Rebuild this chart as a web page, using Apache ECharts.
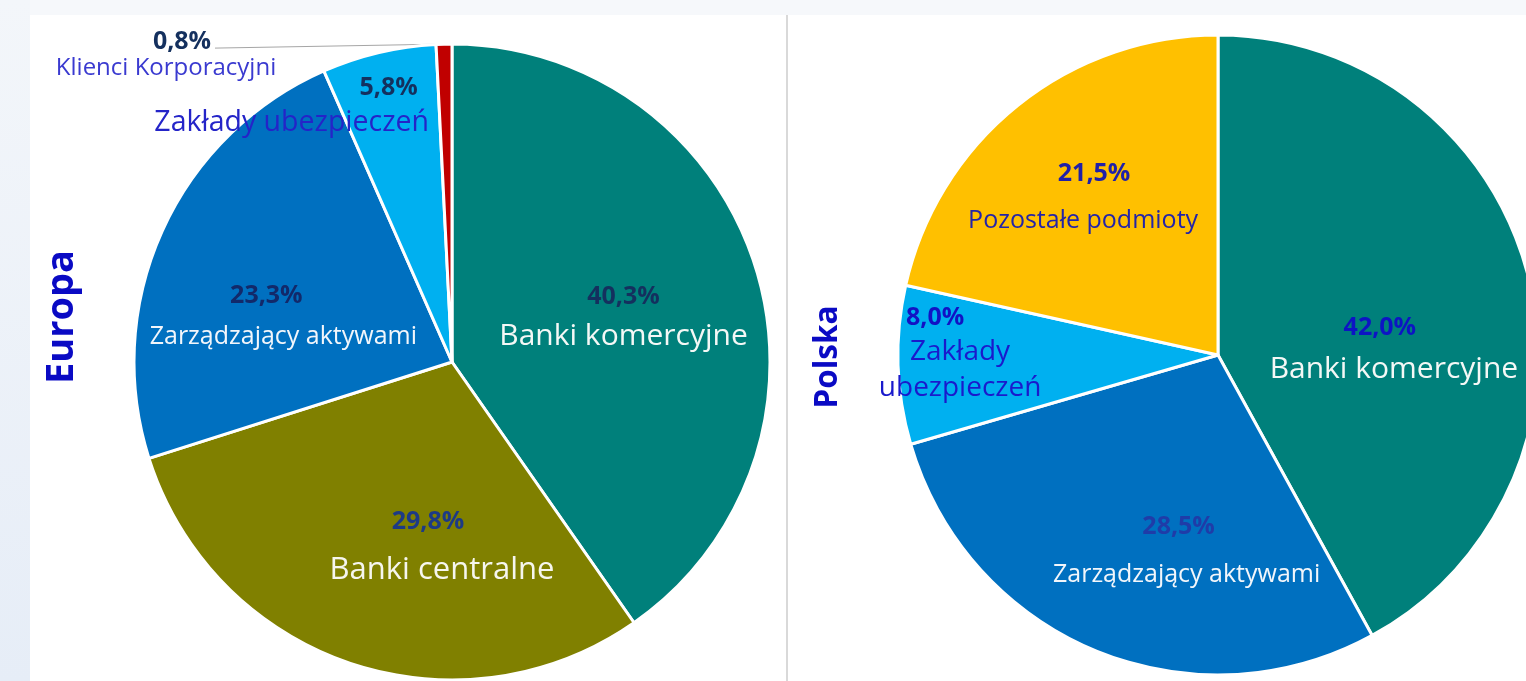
<!DOCTYPE html>
<html><head><meta charset="utf-8">
<script src="https://cdn.jsdelivr.net/npm/echarts@6/dist/echarts.min.js"></script>
<style>html,body{margin:0;padding:0;background:#f6f8fb;overflow:hidden}#c{width:1526px;height:681px}</style>
</head><body><div id="c"></div>
<script>
// ---- data ----
const europeCategories = ['Banki komercyjne', 'Banki centralne', 'Zarządzający aktywami', 'Zakłady ubezpieczeń', 'Klienci Korporacyjni'];
const europeValues = [40.3, 29.8, 23.3, 5.8, 0.8];
const polandCategories = ['Banki komercyjne', 'Zarządzający aktywami', 'Zakłady ubezpieczeń', 'Pozostałe podmioty'];
const polandValues = [42.0, 28.5, 8.0, 21.5];
const panelTitles = ['Europa', 'Polska'];

// ---- styles ----
const FONT = '"Open Sans", "Noto Sans", sans-serif';
function pct(v) { return v.toFixed(1).replace('.', ',') + '%'; }

const europeStyle = [
  { color: '#00807b', pc: '#14305e', nc: '#f4f8f6', ns: 30, plh: 36, nlh: 44, pad: [0, 0, 0, 0], off: [17, 6] },
  { color: '#808000', pc: '#1d3a86', nc: '#f6f6ee', ns: 31, plh: 46, nlh: 52, pad: [0, 28, 0, 0], off: [42, 32] },
  { color: '#0070c0', pc: '#12296a', nc: '#f2f6fb', ns: 25, plh: 38, nlh: 44, pad: [0, 34, 0, 0], off: [-21, 24] },
  { color: '#00b0f0', pc: '#14305e', nc: '#2424c8', ns: 28.5, plh: 34, nlh: 36, pad: [0, 0, 0, 194], off: [-123, -99] },
  { color: '#c00000', pc: '#14305e', nc: '#3a3ad0', ns: 24, plh: 26, nlh: 26, pad: [0, 0, 0, 32], anchorOff: [-278, 11], line: [-229, 4] }
];
const polandStyle = [
  { color: '#00807b', pc: '#0d14c4', nc: '#f4f8f6', ns: 30, plh: 40, nlh: 44, pad: [0, 28, 0, 0], off: [18, 35] },
  { color: '#0070c0', pc: '#1f3ca8', nc: '#f2f6fb', ns: 25, plh: 46, nlh: 50, pad: [0, 16, 0, 0], off: [31, 47] },
  { color: '#00b0f0', pc: '#1212c4', nc: '#1a1acc', ns: 28, plh: 32, nlh: 36, pad: [0, 50, 0, 0], off: [-95, -6], wrap: true },
  { color: '#ffc000', pc: '#2020a8', nc: '#2424a8', ns: 25, plh: 44, nlh: 50, pad: [0, 0, 0, 22], off: [-33, -27] }
];

function buildData(cats, vals, styles) {
  return cats.map(function (name, i) {
    const s = styles[i];
    const nameText = s.wrap ? name.split(' ').map(function (w) { return '{n|' + w + '}'; }).join('\n') : '{n|' + name + '}';
    const item = {
      name: name,
      value: vals[i],
      itemStyle: { color: s.color },
      label: {
        formatter: '{p|' + pct(vals[i]) + '}\n' + nameText,
        rich: {
          p: { fontFamily: FONT, fontSize: 25, fontWeight: 'bold', color: s.pc, lineHeight: s.plh, padding: s.pad },
          n: { fontFamily: FONT, fontSize: s.ns, color: s.nc, lineHeight: s.nlh }
        }
      }
    };
    if (s.line) {
      item.label.position = 'outside';
      item.labelLine = { show: true, length: 4, length2: 4, lineStyle: { color: '#a6a6a6', width: 1 } };
    }
    return item;
  });
}

function makeLayout(styles) {
  return function (params) {
    const s = styles[params.dataIndex];
    const r = params.labelRect;
    if (s.line && params.labelLinePoints) {
      const p0 = params.labelLinePoints[0];
      return {
        x: p0[0] + s.anchorOff[0], y: p0[1] + s.anchorOff[1], align: 'center', verticalAlign: 'middle',
        labelLinePoints: [[p0[0], p0[1]], [p0[0] + s.line[0], p0[1] + s.line[1]]]
      };
    }
    return { x: r.x + r.width / 2 + s.off[0], y: r.y + r.height / 2 + s.off[1], align: 'center', verticalAlign: 'middle' };
  };
}

const pieBase = {
  type: 'pie',
  startAngle: 90,
  clockwise: true,
  avoidLabelOverlap: false,
  silent: true,
  animation: false,
  itemStyle: { borderColor: '#ffffff', borderWidth: 3 },
  label: { show: true, position: 'inside' },
  labelLine: { show: false }
};

const chart = echarts.init(document.getElementById('c'), null, { renderer: 'canvas' });
chart.setOption({
  animation: false,
  backgroundColor: '#f6f8fb',
  graphic: [
    { type: 'rect', z: -10, shape: { x: 0, y: 0, width: 30, height: 681 },
      style: { fill: new echarts.graphic.LinearGradient(0, 0, 0, 1, [{ offset: 0, color: '#f3f6fa' }, { offset: 1, color: '#e6edf7' }]) } },
    { type: 'rect', z: -9, shape: { x: 30, y: 15, width: 1496, height: 666 }, style: { fill: '#ffffff' } },
    { type: 'rect', z: -8, shape: { x: 786, y: 15, width: 2, height: 666 }, style: { fill: '#d9d9d9' } },
    { type: 'text', z: 10, x: 62, y: 317, rotation: Math.PI / 2,
      style: { text: panelTitles[0], fontFamily: FONT, fontSize: 38, fontWeight: 'bold', fill: '#0a0ac4', align: 'center', verticalAlign: 'middle' } },
    { type: 'text', z: 10, x: 828, y: 357, rotation: Math.PI / 2,
      style: { text: panelTitles[1], fontFamily: FONT, fontSize: 31.5, fontWeight: 'bold', fill: '#0a0ac4', align: 'center', verticalAlign: 'middle' } }
  ],
  series: [
    Object.assign({}, pieBase, {
      name: panelTitles[0], center: [452, 362], radius: [0, 318],
      data: buildData(europeCategories, europeValues, europeStyle),
      labelLayout: makeLayout(europeStyle)
    }),
    Object.assign({}, pieBase, {
      name: panelTitles[1], center: [1218, 355], radius: [0, 320],
      data: buildData(polandCategories, polandValues, polandStyle),
      labelLayout: makeLayout(polandStyle)
    })
  ]
});
</script></body></html>
